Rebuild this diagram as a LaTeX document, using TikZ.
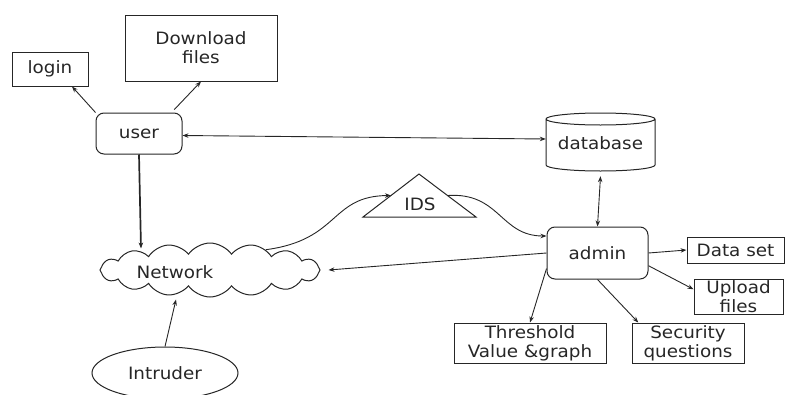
\documentclass[tikz,border=0pt]{standalone}
\usepackage{fontspec}
\setmainfont{DejaVu Sans}[FakeStretch=1.08]
\usetikzlibrary{shapes.geometric,shapes.symbols,arrows.meta,calc}

\begin{document}
\begin{tikzpicture}[x=1pt,y=-1pt,
  lbl/.style={font=\fontsize{17}{19}\selectfont, text=black!85, align=center},
  box/.style={lbl, draw=black!85, line width=1pt, inner sep=0pt},
  rbox/.style={box, rounded corners=8pt},
  tip/.style={-{Stealth[length=6pt,width=4.5pt]}},
  link/.style={draw=black!85, line width=0.9pt, tip},
  both/.style={link, {Stealth[length=6pt,width=4.5pt]}-{Stealth[length=6pt,width=4.5pt]}}]

\useasboundingbox (0,0) rectangle (785,394);

% user side
\node[box, minimum width=76, minimum height=34] (login) at (50,69) {login};
\node[box, minimum width=152, minimum height=66] (dl) at (201,48) {Download\\files};
\node[rbox, minimum width=86, minimum height=41] (user) at (139,133.5) {user};

% database drawn as a cylinder
\node[lbl, minimum width=109, minimum height=58, inner sep=0pt] (db) at (600.5,143) {database};
\draw[black!85, line width=1pt]
  (600.5,119) ellipse [x radius=54.5, y radius=6]
  (546,119) -- (546,165) arc [start angle=180, end angle=0, x radius=54.5, y radius=6]
  -- (655,119);

% admin side
\node[rbox, minimum width=101, minimum height=52] (admin) at (597.5,253) {admin};
\node[box, minimum width=97, minimum height=26] (data) at (735.5,250) {Data set};
\node[box, minimum width=89, minimum height=35] (upl) at (738.5,296.5) {Upload\\files};
\node[box, minimum width=152, minimum height=40] (thr) at (530,343) {Threshold\\Value \&graph};
\node[box, minimum width=112, minimum height=40] (sec) at (688,343) {Security\\questions};

% network, intruder, IDS
\node[cloud, draw=black!85, line width=1pt, cloud puffs=16, cloud puff arc=110,
      minimum width=220, minimum height=54, inner sep=0pt] (net) at (210,270) {};
\node[lbl] (netlbl) at (175,272) {Network};
\node[ellipse, draw=black!85, line width=1pt, lbl, minimum width=146, minimum height=52,
      inner sep=0pt] (intr) at (165,373) {Intruder};

\coordinate (idsA) at (419,174);
\coordinate (idsL) at (363,217);
\coordinate (idsR) at (476,217);
\draw[black!85, line width=1pt] (idsA) -- (idsL) -- (idsR) -- cycle;
\node[lbl] (ids) at (420,204) {IDS};

% connectors
\draw[link] (user.north west) -- ($(login.south)+(22,0)$);
\draw[link, shorten <=4pt] ([xshift=-11pt]user.north east) -- (dl.south);
\draw[both] ([yshift=-2pt]user.east) -- ([yshift=4pt]db.west);
\draw[link, line width=1.7pt] (user.south) -- ($(net.north)+(-69,6)$);
\draw[link] (intr.north) -- ($(net.south)+(-34,2)$);
\draw[link] (net.20) .. controls (340,240) and (330,196) .. ($(idsL)!0.5!(idsA)$);
\draw[link] ($(idsR)!0.5!(idsA)$) .. controls (500,192) and (500,236) .. (admin.west |- 0,236);
\draw[both] ([yshift=-4pt]db.south) -- (admin.north);
\draw[link] (admin.west) -- ([xshift=8pt]net.east);
\draw[link] (admin.east) -- (data.west);
\draw[link] (admin.-14) -- ($(upl.north west)!0.3!(upl.south west)$);
\draw[link] (admin.197) -- (thr.north);
\draw[link] (admin.south) -- ($(sec.north west)!0.06!(sec.north east)$);

\end{tikzpicture}
\end{document}
